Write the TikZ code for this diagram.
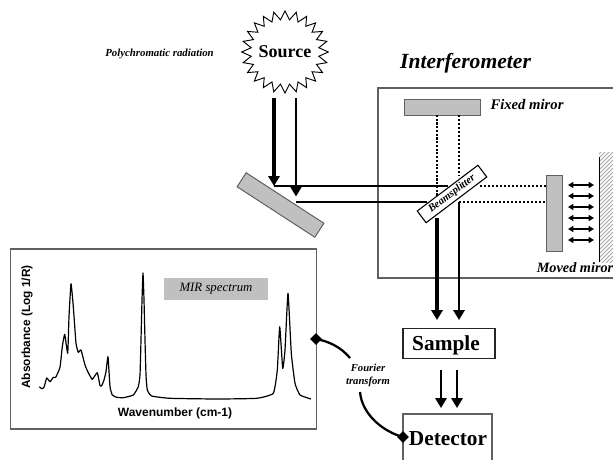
\documentclass[tikz,border=0pt]{standalone}
\usepackage{fontspec}
\setmainfont{Liberation Serif}
\setsansfont{Liberation Sans}
\usetikzlibrary{arrows.meta,shapes.geometric}
\definecolor{mirgray}{HTML}{C0C0C0}
\definecolor{edgegray}{HTML}{606060}
\tikzset{
  beamthick/.style={line width=2.3pt},
  beamthin/.style={line width=1.6pt},
  dotthick/.style={line width=2.2pt,dash pattern=on 1.6pt off 1.2pt},
  dotthin/.style={line width=1.5pt,dash pattern=on 1.5pt off 1.5pt},
  tipped/.style={-{Triangle[length=7.5pt,width=8.5pt]}},
  mirrorbox/.style={draw=edgegray,fill=mirgray,line width=0.75pt,inner sep=0pt},
  panel/.style={draw=edgegray,line width=0.8pt},
  boxlabel/.style={font=\bfseries,inner sep=0pt},
  italiclabel/.style={font=\bfseries\itshape,inner sep=0pt},
  movearrow/.style={{Triangle[length=4pt,width=4.5pt]}-{Triangle[length=4pt,width=4.5pt]},line width=1pt},
  joint/.style={diamond,fill=black,inner sep=0pt,minimum size=9pt},
  linkcurve/.style={line width=1.7pt}
}
\begin{document}
\begin{tikzpicture}[x=0.75pt,y=-0.75pt]
\useasboundingbox (0,0) rectangle (613,460);
% Interferometer housing
\draw[panel] (613,88) -- (378,88) -- (378,278) -- (613,278);
% Source
\node[star,star points=24,star point ratio=1.27,draw=black,line width=0.7pt,minimum size=65pt,inner sep=0pt,yscale=0.95] (srcstar) at (285,52) {};
\node[boxlabel,font=\bfseries\fontsize{13.5}{15}\selectfont] (source) at (285,52) {Source};
\node[italiclabel,font=\bfseries\itshape\fontsize{8.1}{10}\selectfont] (poly) at (159.5,54) {Polychromatic radiation};
\node[italiclabel,font=\bfseries\itshape\fontsize{16.2}{19}\selectfont] (interf) at (465.5,63) {Interferometer};
% Mirrors
\node[mirrorbox,minimum width=69.5pt,minimum height=12.5pt,rotate=-33] (mainmirror) at (280.5,205) {};
\node[mirrorbox,minimum width=57.5pt,minimum height=12pt] (fixedm) at (442.5,107) {};
\node[mirrorbox,minimum width=12pt,minimum height=57pt] (movedm) at (554,213) {};
\node[italiclabel,font=\bfseries\itshape\fontsize{11}{13}\selectfont] (fixedlab) at (527,104) {Fixed miror};
\node[italiclabel,font=\bfseries\itshape\fontsize{10.7}{13}\selectfont] (movedlab) at (575,268) {Moved miror};
% Coordinates for beam ends
\coordinate (s1) at (274,98);
\coordinate (s2) at (296,98);
\coordinate (m1) at (274,186);
\coordinate (m2) at (296,202);
\coordinate (b1) at (448,186);
\coordinate (b2) at (427,202);
\coordinate (b3) at (480,186);
\coordinate (b4) at (459,202);
\coordinate (f1) at (437,115);
\coordinate (f2) at (459,115);
\coordinate (f1e) at (437,199);
\coordinate (f2e) at (459,176);
\coordinate (d1) at (437,218);
\coordinate (d2) at (459,320);
\coordinate (d1e) at (437,320);
\coordinate (e1) at (545.5,186);
\coordinate (e2) at (545.5,202);
\coordinate (t1) at (441,370);
\coordinate (t2) at (457,370);
\coordinate (t1e) at (441,408);
\coordinate (t2e) at (457,408);
\coordinate (s2e) at (296,196.5);
% Beams
\draw[beamthick,tipped] (s1) -- (m1);
\draw[beamthin,tipped] (s2) -- (s2e);
\draw[beamthin] (m1) -- (b1);
\draw[beamthin] (m2) -- (b2);
\draw[dotthick] (f1) -- (f1e);
\draw[dotthin] (f2) -- (f2e);
\draw[dotthin] (b3) -- (e1);
\draw[dotthin] (b4) -- (e2);
\draw[beamthick,tipped] (d1) -- (d1e);
\draw[beamthin,tipped] (b4) -- (d2);
\draw[beamthin,tipped] (t1) -- (t1e);
\draw[beamthin,tipped] (t2) -- (t2e);
% Beamsplitter
\node[draw=black,fill=white,line width=0.8pt,minimum width=57pt,minimum height=11pt,inner sep=0pt,rotate=37,font=\bfseries\itshape\fontsize{8}{8}\selectfont] (bs) at (452,194) {Beamsplitter};
% Moving wall
\begin{scope}
\clip (599,152) rectangle (613,262);
\foreach \k in {0,4,...,136}
  \draw[gray!70,line width=0.6pt] (599,150+\k) -- (619,130+\k);
\end{scope}
\draw[line width=0.75pt] (599,157) -- (599,262);
\foreach \yy [count=\i] in {185,196,207,218,229,240}{
  \coordinate (ma\i) at (568,\yy);
  \coordinate (mb\i) at (594,\yy);
  \draw[movearrow] (ma\i) -- (mb\i);
}
% Sample and detector
\node[draw=black!85,line width=0.8pt,minimum width=69pt,minimum height=23pt,inner sep=0pt] (samplebox) at (449,343.5) {};
\node[boxlabel,font=\bfseries\fontsize{16}{18}\selectfont] (sample) at (446,345) {Sample};
\draw[panel] (403,460) -- (403,414) -- (492,414) -- (492,460);
\node[boxlabel,font=\bfseries\fontsize{16}{18}\selectfont] (detector) at (448,439) {Detector};
% Spectrum
\node[panel,fill=white,minimum width=229pt,minimum height=135pt,inner sep=0pt] (specbox) at (163.5,339) {};
\node[fill=mirgray,minimum width=78pt,minimum height=16.5pt,inner sep=0pt,font=\itshape\fontsize{9.6}{11}\selectfont] (mir) at (216,289) {MIR spectrum};
\node[rotate=90,inner sep=0pt,font=\sffamily\bfseries\fontsize{8.9}{10}\selectfont] (ylab) at (27,327) {Absorbance (Log 1/R)};
\node[inner sep=0pt,font=\sffamily\bfseries\fontsize{9}{10}\selectfont] (xlab) at (175,413) {Wavenumber (cm-1)};
\draw[line width=0.9pt,line join=round] plot[smooth,tension=0.25] coordinates {
(39.3,386.7)(41.7,388.7)(44,387.3)(46.7,378)(50,381.7)(53.3,377.3)(55.7,377.3)(60,367.3)(62.3,346.7)(64.7,334.3)
(67.7,353.3)(69,316.7)(71,283.7)(73.3,306.7)(76,343.3)(78.3,352.3)(81,350)(85,365)(88.3,372.7)(92.3,379.3)(97.3,372.7)
(100,385.7)(101.7,385.7)(104,380)(106,371.7)(108,356.7)(110,386.7)(112.3,395)(116.7,397.3)(123.3,397.7)(133.3,395)
(138.3,386.7)(140,375)(141,340)(142,300)(143,273)(144,300)(145,340)(146,375)(147.3,390)(151.7,396)(170,398.3)
(216.7,399)(256.7,398.3)(273.3,393.3)(277.3,370)(279.7,326.7)(282.7,368.3)(285,350)(288,293.3)(291.3,353.3)
(295,383.3)(300,395)(311,399)};
% Fourier link
\node[joint] (jspec) at (316,339) {};
\node[joint] (jdet) at (403,437) {};
\node[italiclabel,align=center,font=\bfseries\itshape\fontsize{8}{10}\selectfont] (fourier) at (368,375.5) {Fourier\\transform};
\coordinate (four1) at (350,358);
\coordinate (four2) at (360,392);
\draw[linkcurve] (jspec.center) .. controls (328,341) and (341,347) .. (four1);
\draw[linkcurve] (four2) .. controls (362,415) and (384,432) .. (jdet.center);
\end{tikzpicture}
\end{document}
